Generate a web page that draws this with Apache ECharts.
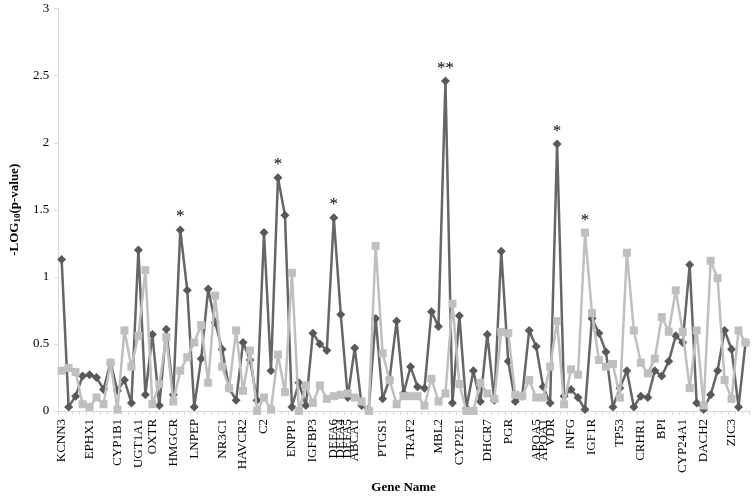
<!DOCTYPE html>
<html>
<head>
<meta charset="utf-8">
<script src="https://cdn.jsdelivr.net/npm/echarts@6/dist/echarts.min.js"></script>
<style>
html,body{margin:0;padding:0;background:#fff;}
#chart{width:752px;height:499px;}
</style>
</head>
<body>
<div id="chart"></div>
<script>
// Gene labels at the first SNP of each gene (others blank)
const geneLabels = [
  [0,'KCNN3'],[4,'EPHX1'],[8,'CYP1B1'],[11,'UGT1A1'],[13,'OXTR'],[16,'HMGCR'],
  [19,'LNPEP'],[23,'NR3C1'],[26,'HAVCR2'],[29,'C2'],[33,'ENPP1'],[36,'IGFBP3'],
  [39,'DEFA6'],[40,'DEFA4'],[41,'DEFA5'],[42,'ABCA1'],[46,'PTGS1'],[50,'TRAF2'],
  [54,'MBL2'],[57,'CYP2E1'],[61,'DHCR7'],[64,'PGR'],[68,'APOA5'],[69,'APOA1'],
  [70,'VDR'],[73,'INFG'],[76,'IGF1R'],[80,'TP53'],[83,'CRHR1'],[86,'BPI'],
  [89,'CYP24A1'],[92,'DACH2'],[96,'ZIC3']
];
const categoryCount = 99;

const darkValues = [
  1.13,0.03,0.11,0.26,0.27,0.25,0.16,0.36,0.15,0.23,
  0.06,1.20,0.12,0.57,0.04,0.61,0.12,1.35,0.90,0.03,
  0.39,0.91,0.66,0.46,0.17,0.08,0.51,0.38,0.08,1.33,
  0.30,1.74,1.46,0.03,0.21,0.04,0.58,0.50,0.45,1.44,
  0.72,0.10,0.47,0.04,0.01,0.69,0.09,0.24,0.67,0.13,
  0.33,0.18,0.17,0.74,0.63,2.46,0.06,0.71,0.02,0.30,
  0.07,0.57,0.08,1.19,0.37,0.07,0.11,0.60,0.48,0.18,
  0.06,1.99,0.11,0.16,0.10,0.01,0.69,0.58,0.44,0.03,
  0.17,0.30,0.03,0.11,0.10,0.30,0.26,0.37,0.56,0.51,
  1.09,0.06,0.01,0.12,0.30,0.60,0.46,0.03,0.51
];
const lightValues = [
  0.30,0.32,0.29,0.05,0.03,0.10,0.05,0.36,0.01,0.60,
  0.33,0.56,1.05,0.05,0.20,0.55,0.07,0.30,0.40,0.51,
  0.64,0.21,0.86,0.33,0.17,0.60,0.15,0.45,0.00,0.10,
  0.01,0.42,0.14,1.03,0.00,0.19,0.06,0.19,0.09,0.11,
  0.12,0.13,0.10,0.07,0.00,1.23,0.43,0.23,0.05,0.11,
  0.11,0.11,0.04,0.24,0.07,0.13,0.80,0.20,0.00,0.00,
  0.21,0.13,0.09,0.59,0.58,0.12,0.11,0.23,0.10,0.10,
  0.33,0.67,0.05,0.31,0.27,1.33,0.73,0.38,0.33,0.35,
  0.10,1.18,0.60,0.36,0.28,0.39,0.70,0.59,0.90,0.59,
  0.17,0.60,0.04,1.12,0.99,0.23,0.09,0.60,0.51
];
const darkStars = [[17,'*'],[31,'*'],[39,'*'],[55,'**'],[71,'*']];
const lightStars = [[75,'*']];
const yTicks = [0,0.5,1,1.5,2,2.5,3];

const categories = new Array(categoryCount).fill('');
geneLabels.forEach(([i,n]) => categories[i] = n);

function buildData(values, stars){
  const m = new Map(stars);
  return values.map((v,i) => m.has(i) ? {
    value: v,
    label: {show:true, position:'top', formatter: m.get(i), distance: 0,
      fontFamily:'Liberation Serif', fontSize:17, color:'#000'}
  } : v);
}

const FONT = 'Liberation Serif';
const chart = echarts.init(document.getElementById('chart'), null, {renderer:'canvas'});
chart.setOption({
  animation:false,
  backgroundColor:'#fff',
  grid:{left:52, right:3, top:8.7, bottom:87.3, containLabel:false},
  xAxis:{
    type:'category',
    data:categories,
    boundaryGap:true,
    name:'Gene Name',
    nameLocation:'middle',
    nameGap:70,
    nameTextStyle:{fontFamily:FONT, fontSize:13, fontWeight:'bold', color:'#000', verticalAlign:'top'},
    axisLine:{show:true, lineStyle:{color:'#d9d9d9', width:1}},
    axisTick:{show:true, interval:0, length:4, lineStyle:{color:'#d9d9d9'}},
    axisLabel:{interval:0, rotate:90, margin:8, fontFamily:FONT, fontSize:13, color:'#000'},
    splitLine:{show:false}
  },
  yAxis:{
    type:'value',
    min:yTicks[0], max:yTicks[yTicks.length-1], interval:0.5,
    name:'-LOG{sub|10}(p-value)',
    nameLocation:'middle',
    nameGap:33,
    nameRotate:90,
    nameTextStyle:{fontFamily:FONT, fontSize:13, fontWeight:'bold', color:'#000',
      rich:{sub:{fontFamily:FONT, fontSize:9, fontWeight:'bold', verticalAlign:'bottom', padding:[6,0,0,0]}}},
    axisLine:{show:true, lineStyle:{color:'#d9d9d9', width:1}},
    axisTick:{show:true, length:4, lineStyle:{color:'#d9d9d9'}},
    axisLabel:{margin:9, fontFamily:FONT, fontSize:13, color:'#000'},
    splitLine:{show:false}
  },
  series:[
    {
      name:'dark', type:'line', data:buildData(darkValues, darkStars),
      symbol:'diamond', symbolSize:9,
      lineStyle:{color:'#666666', width:2.5},
      itemStyle:{color:'#595959'},
      z:2
    },
    {
      name:'light', type:'line', data:buildData(lightValues, lightStars),
      symbol:'rect', symbolSize:8,
      lineStyle:{color:'#bfbfbf', width:2.5},
      itemStyle:{color:'#bfbfbf'},
      z:3
    }
  ]
});
</script>
</body>
</html>
